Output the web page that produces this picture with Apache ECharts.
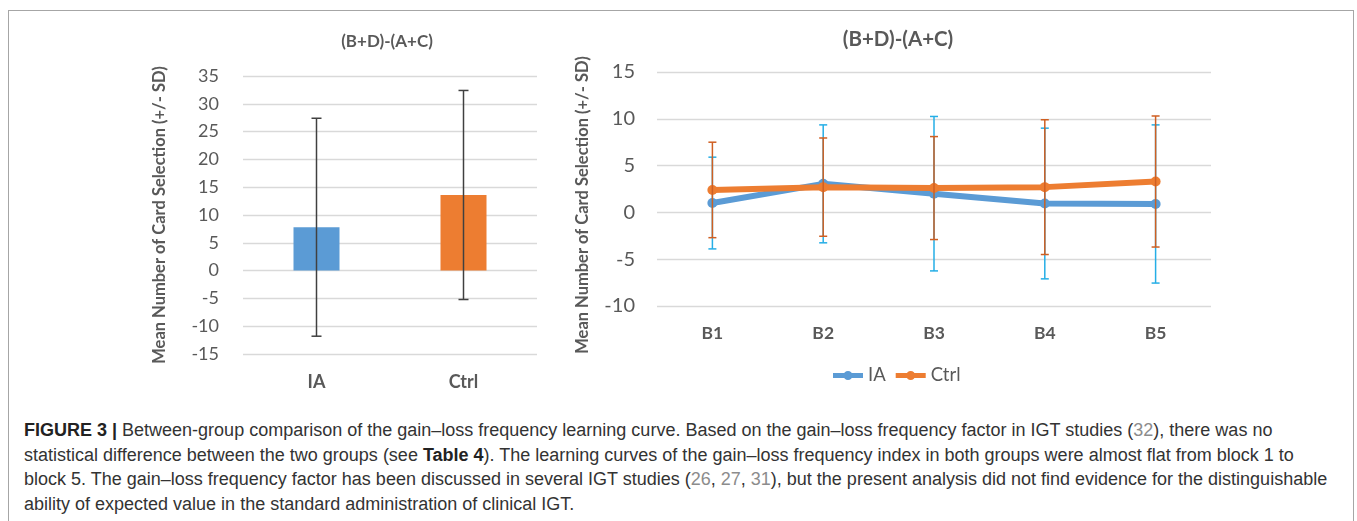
<!DOCTYPE html>
<html>
<head>
<meta charset="utf-8">
<script src="https://cdn.jsdelivr.net/npm/echarts@6.0.0/dist/echarts.min.js"></script>
<style>
  html, body { margin: 0; padding: 0; background: #fff; }
  #wrap { position: relative; width: 1357px; height: 521px; overflow: hidden; }
  #frame {
    position: absolute; left: 8px; top: 10px; width: 1346px; height: 540px;
    border: 1.5px solid #a6a6a6; box-sizing: border-box;
  }
  #chart { position: absolute; left: 0; top: 0; width: 1357px; height: 400px; }
  #caption {
    position: absolute; left: 24px; top: 418px;
    font-family: "Liberation Sans", Arial, sans-serif;
    font-size: 18px; line-height: 24.6px; color: #333;
    white-space: nowrap;
  }
  #caption b { color: #222; }
  #caption .ref { color: #8c8c8c; }
</style>
</head>
<body>
<div id="wrap">
  <div id="frame"></div>
  <div id="chart"></div>
  <div id="caption">
    <b>FIGURE 3 |</b> Between-group comparison of the gain–loss frequency learning curve. Based on the gain–loss frequency factor in IGT studies (<span class="ref">32</span>), there was no<br>
    statistical difference between the two groups (see <b>Table 4</b>). The learning curves of the gain–loss frequency index in both groups were almost flat from block 1 to<br>
    block 5. The gain–loss frequency factor has been discussed in several IGT studies (<span class="ref">26</span>, <span class="ref">27</span>, <span class="ref">31</span>), but the present analysis did not find evidence for the distinguishable<br>
    ability of expected value in the standard administration of clinical IGT.
  </div>
</div>
<script>
  // left panel: overall mean (+/- SD)
  const groups = ['IA', 'Ctrl'];
  const groupMeans = [7.8, 13.6];
  const groupSD = [19.6, 18.8];

  // right panel: per block
  const blocks = ['B1', 'B2', 'B3', 'B4', 'B5'];
  const iaMeans = [1.0, 3.05, 2.0, 0.95, 0.9];
  const iaSD = [4.9, 6.3, 8.25, 8.05, 8.45];
  const ctrlMeans = [2.4, 2.7, 2.6, 2.7, 3.3];
  const ctrlSD = [5.1, 5.25, 5.5, 7.2, 7.0];

  // axis ranges [min, max, step]
  const leftRange = [-15, 35, 5];
  const rightRange = [-10, 15, 5];

  const titleText = '(B+D)-(A+C)';
  const yName = 'Mean Number of Card Selection (+/- SD)';

  const BLUE = '#5b9bd5';
  const ORANGE = '#ed7d31';
  const GREY = '#595959';
  const FONT = 'Lato, "Open Sans", sans-serif';
  // thick line with a dot in the middle, like the excel legend key
  const LEGEND_ICON = 'path://M0,2 L30,2 L30,7 L0,7 Z M10.5,4.5 A4.5,4.5 0 1 1 19.5,4.5 A4.5,4.5 0 1 1 10.5,4.5 Z';

  function errData(means, sds) {
    return means.map((m, i) => [i, m - sds[i], m + sds[i]]);
  }

  function errRenderer(color, capHalf, width) {
    return function (params, api) {
      const lo = api.coord([api.value(0), api.value(1)]);
      const hi = api.coord([api.value(0), api.value(2)]);
      const style = { stroke: color, lineWidth: width };
      return {
        type: 'group',
        children: [
          { type: 'line', shape: { x1: lo[0], y1: lo[1], x2: hi[0], y2: hi[1] }, style },
          { type: 'line', shape: { x1: lo[0] - capHalf, y1: lo[1], x2: lo[0] + capHalf, y2: lo[1] }, style },
          { type: 'line', shape: { x1: hi[0] - capHalf, y1: hi[1], x2: hi[0] + capHalf, y2: hi[1] }, style }
        ]
      };
    };
  }

  const catAxis = (idx, data, size, margin) => ({
    type: 'category', gridIndex: idx, data: data,
    axisLine: { show: false }, axisTick: { show: false },
    axisLabel: { color: GREY, fontFamily: FONT, fontWeight: 'bold', fontSize: size, margin: margin }
  });

  const valAxis = (idx, range, size, margin) => ({
    type: 'value', gridIndex: idx, min: range[0], max: range[1], interval: range[2],
    axisLine: { show: false }, axisTick: { show: false },
    axisLabel: { color: GREY, fontFamily: FONT, fontSize: size, margin: margin },
    splitLine: { lineStyle: { color: '#d9d9d9', width: 1.4 } }
  });

  const chart = echarts.init(document.getElementById('chart'));
  chart.setOption({
    animation: false,
    title: [
      { text: titleText, left: 382, top: 28, textAlign: 'center',
        textStyle: { color: GREY, fontFamily: FONT, fontWeight: 'bold', fontSize: 17 } },
      { text: titleText, left: 893, top: 24, textAlign: 'center',
        textStyle: { color: GREY, fontFamily: FONT, fontWeight: 'bold', fontSize: 20.5 } }
    ],
    grid: [
      { left: 243, top: 76, width: 294, height: 278 },
      { left: 657, top: 72, width: 554, height: 234 }
    ],
    xAxis: [catAxis(0, groups, 18, 19), catAxis(1, blocks, 17.5, 18)],
    yAxis: [valAxis(0, leftRange, 18, 24), valAxis(1, rightRange, 20, 22)],
    legend: {
      left: 833, top: 366, padding: 0, itemWidth: 30, itemHeight: 9, itemGap: 10,
      icon: LEGEND_ICON,
      data: ['IA', 'Ctrl'],
      textStyle: { color: GREY, fontFamily: FONT, fontSize: 18.5 }
    },
    graphic: [
      { type: 'text', x: 160, y: 215, rotation: Math.PI / 2,
        style: { text: yName, fill: GREY, font: 'bold 16.5px ' + FONT, align: 'center', verticalAlign: 'middle' } },
      { type: 'text', x: 583, y: 205, rotation: Math.PI / 2,
        style: { text: yName, fill: GREY, font: 'bold 16.5px ' + FONT, align: 'center', verticalAlign: 'middle' } }
    ],
    series: [
      {
        type: 'bar', xAxisIndex: 0, yAxisIndex: 0, barWidth: 46,
        data: groupMeans.map((v, i) => ({ value: v, itemStyle: { color: i === 0 ? BLUE : ORANGE } })),
        z: 2
      },
      {
        type: 'custom', xAxisIndex: 0, yAxisIndex: 0, z: 3,
        renderItem: errRenderer('#404040', 5, 1.5),
        encode: { x: 0, y: [1, 2] },
        data: errData(groupMeans, groupSD)
      },
      {
        name: 'IA', type: 'line', xAxisIndex: 1, yAxisIndex: 1, z: 2,
        data: iaMeans, symbol: 'circle', symbolSize: 10,
        lineStyle: { color: BLUE, width: 6 }, itemStyle: { color: BLUE }
      },
      {
        type: 'custom', xAxisIndex: 1, yAxisIndex: 1, z: 3,
        renderItem: errRenderer('#25aee6', 4, 1.5),
        encode: { x: 0, y: [1, 2] },
        data: errData(iaMeans, iaSD)
      },
      {
        name: 'Ctrl', type: 'line', xAxisIndex: 1, yAxisIndex: 1, z: 4,
        data: ctrlMeans, symbol: 'circle', symbolSize: 10,
        lineStyle: { color: ORANGE, width: 6 }, itemStyle: { color: ORANGE }
      },
      {
        type: 'custom', xAxisIndex: 1, yAxisIndex: 1, z: 5,
        renderItem: errRenderer('#cf5f22', 4, 1.5),
        encode: { x: 0, y: [1, 2] },
        data: errData(ctrlMeans, ctrlSD)
      }
    ]
  });
</script>
</body>
</html>
